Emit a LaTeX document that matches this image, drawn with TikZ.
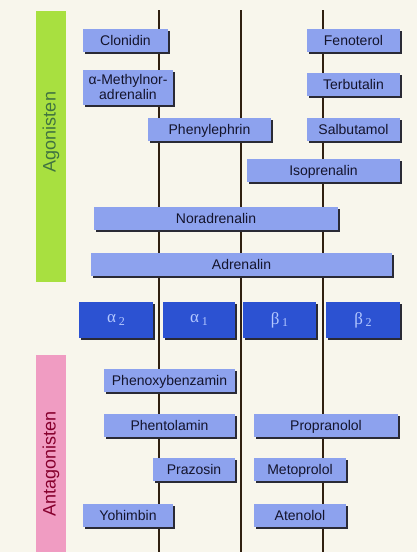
\documentclass[tikz,border=0pt]{standalone}
\usepackage{fontspec}
\setmainfont{Liberation Sans}
\newfontfamily\rezfont{Liberation Serif}
\usetikzlibrary{shadows}

\definecolor{paper}{HTML}{F8F6EC}
\definecolor{drugblue}{HTML}{8DA2EE}
\definecolor{rezblue}{HTML}{2C52D2}
\definecolor{reztext}{HTML}{B4C8FF}
\definecolor{druginkt}{HTML}{14142C}
\definecolor{schatten}{HTML}{2A2A35}
\definecolor{agogreen}{HTML}{A8E040}
\definecolor{antapink}{HTML}{F09CC2}

\tikzset{
  drug/.style={fill=drugblue, text=druginkt, inner sep=0pt, minimum height=23pt,
    text height=11.5pt, text depth=1.5pt,
    align=center, font=\fontsize{14}{15}\selectfont,
    drop shadow={shadow xshift=2pt, shadow yshift=-2pt, fill=schatten, opacity=1}},
  rezeptor/.style={fill=rezblue, text=reztext, inner sep=0pt, minimum height=36pt,
    font=\rezfont\fontsize{17}{17}\selectfont,
    drop shadow={shadow xshift=2pt, shadow yshift=-2pt, fill=schatten, opacity=1}},
  gruppe/.style={rotate=90, font=\fontsize{18}{18}\selectfont},
  rezline/.style={line width=1.6pt, draw=black!75!brown}
}
\newcommand{\rezlabel}[2]{#1\,\raisebox{-2.5pt}{\fontsize{12}{12}\selectfont #2}}

\begin{document}
\begin{tikzpicture}[x=1pt,y=-1pt]

% paper and frame
\fill[paper] (0,0) rectangle (417,552);
\useasboundingbox (0,0) rectangle (417,552);

% coloured side bars
\fill[agogreen] (36,11) rectangle (66,282);
\fill[antapink] (36,355) rectangle (66,552);
\node[gruppe, text=black!60!green!50!gray] (ago) at (51,132) {Agonisten};
\node[gruppe, text=purple!70!black] (anta) at (51,464) {Antagonisten};

% receptor separating lines
\foreach \x [count=\i] in {159,241,323} {
  \coordinate (top\i) at (\x,10);
  \coordinate (bot\i) at (\x,552);
  \draw[rezline] (top\i) -- (bot\i);
}

% agonists
\node[drug, minimum width=85pt] (clonidin) at (125.5,40) {Clonidin};
\node[drug, minimum width=93pt] (fenoterol) at (353.5,40) {Fenoterol};
\node[drug, minimum width=90pt, minimum height=35pt, text height=, text depth=] (methyl) at (128,87) {α-Methylnor-\\adrenalin};
\node[drug, minimum width=93pt] (terbutalin) at (353.5,84) {Terbutalin};
\node[drug, minimum width=123pt] (phenylephrin) at (209.5,129) {Phenylephrin};
\node[drug, minimum width=93pt] (salbutamol) at (353.5,129) {Salbutamol};
\node[drug, minimum width=153pt] (isoprenalin) at (323.5,170) {Isoprenalin};
\node[drug, minimum width=244pt] (noradrenalin) at (216,218) {Noradrenalin};
\node[drug, minimum width=301pt] (adrenalin) at (241.5,264.5) {Adrenalin};

% receptors
\node[rezeptor, minimum width=74pt] (a2) at (116,320) {\rezlabel{α}{2}};
\node[rezeptor, minimum width=72pt] (a1) at (199,320) {\rezlabel{α}{1}};
\node[rezeptor, minimum width=73pt] (b1) at (279.5,320) {\rezlabel{β}{1}};
\node[rezeptor, minimum width=74pt] (b2) at (363,320) {\rezlabel{β}{2}};

% antagonists
\node[drug, minimum width=131pt] (phenoxy) at (169.5,380) {Phenoxybenzamin};
\node[drug, minimum width=131pt] (phentolamin) at (169.5,425) {Phentolamin};
\node[drug, minimum width=144pt] (propranolol) at (326,425) {Propranolol};
\node[drug, minimum width=82pt] (prazosin) at (194,469.5) {Prazosin};
\node[drug, minimum width=92pt] (metoprolol) at (300,469.5) {Metoprolol};
\node[drug, minimum width=90pt] (yohimbin) at (128,515) {Yohimbin};
\node[drug, minimum width=92pt] (atenolol) at (300,515) {Atenolol};

\end{tikzpicture}
\end{document}
